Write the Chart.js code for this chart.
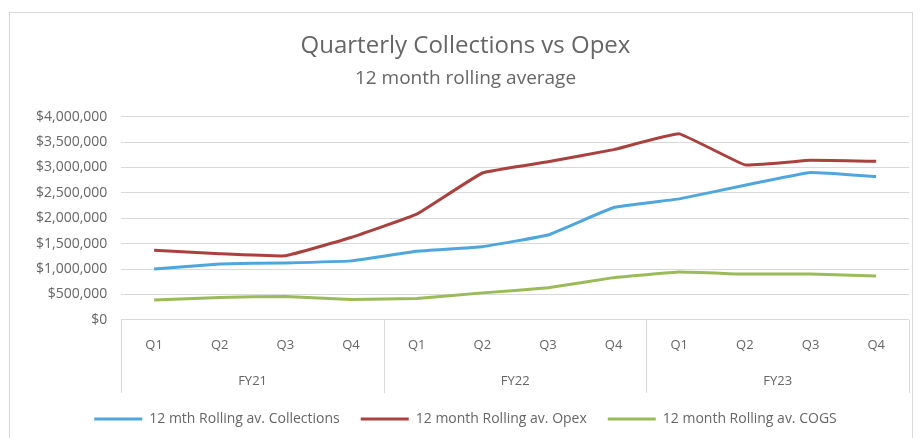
<!DOCTYPE html>
<html>
<head>
<meta charset="utf-8">
<script src="https://cdn.jsdelivr.net/npm/chart.js@4"></script>
<style>
  body { margin: 0; background: #ffffff; }
  #box { position: absolute; left: 9px; top: 12px; width: 902px; height: 430px; border: 1px solid #d9d9d9; background: #fff; }
  #c { display: block; }
</style>
</head>
<body>
<div id="box"><canvas id="c" width="902" height="430"></canvas></div>
<script>
// Datos del gráfico
const quarters = ['Q1', 'Q2', 'Q3', 'Q4', 'Q1', 'Q2', 'Q3', 'Q4', 'Q1', 'Q2', 'Q3', 'Q4'];
const years = ['FY21', 'FY22', 'FY23'];
const collections = [1000000, 1100000, 1120000, 1160000, 1350000, 1440000, 1670000, 2210000, 2380000, 2650000, 2900000, 2820000];
const opex = [1370000, 1300000, 1260000, 1620000, 2080000, 2890000, 3110000, 3350000, 3660000, 3050000, 3140000, 3120000];
const cogs = [390000, 440000, 460000, 400000, 420000, 530000, 630000, 830000, 940000, 900000, 900000, 860000];
const yTicks = [0, 500000, 1000000, 1500000, 2000000, 2500000, 3000000, 3500000, 4000000];

const gris = '#666666';
const lineaGris = '#d9d9d9';
const fuente = 'Open Sans';

// Líneas verticales que separan los años debajo del eje
const separadores = {
    id: 'separadores',
    afterDraw(chart) {
        const x = chart.scales.x;
        const x2 = chart.scales.x2;
        const ctx = chart.ctx;
        const paso = x.getPixelForValue(1) - x.getPixelForValue(0);
        ctx.save();
        ctx.strokeStyle = lineaGris;
        ctx.lineWidth = 1;
        for (let i = 0; i <= quarters.length; i += 4) {
            const px = Math.round(x.getPixelForValue(i) - paso / 2) + 0.5;
            ctx.beginPath();
            ctx.moveTo(px, chart.chartArea.bottom);
            ctx.lineTo(px, x2.bottom + 2);
            ctx.stroke();
        }
        ctx.restore();
    }
};

const ctx = document.getElementById('c').getContext('2d');
new Chart(ctx, {
    type: 'line',
    data: {
        labels: quarters,
        datasets: [
            { label: '12 mth Rolling av. Collections', data: collections, borderColor: '#4ea6dc', backgroundColor: '#4ea6dc', borderWidth: 3 },
            { label: '12 month Rolling av. Opex', data: opex, borderColor: '#a9413f', backgroundColor: '#a9413f', borderWidth: 3 },
            { label: '12 month Rolling av. COGS', data: cogs, borderColor: '#9bbb59', backgroundColor: '#9bbb59', borderWidth: 3 }
        ]
    },
    options: {
        responsive: false,
        animation: false,
        layout: { padding: { left: 12, right: 3, top: 4, bottom: 7 } },
        elements: {
            line: { tension: 0.08 },
            point: { radius: 0 }
        },
        plugins: {
            title: {
                display: true,
                text: 'Quarterly Collections vs Opex',
                color: gris,
                font: { family: fuente, size: 24, weight: 'normal' },
                padding: { top: 15, bottom: 6 }
            },
            subtitle: {
                display: true,
                text: '12 month rolling average',
                color: gris,
                font: { family: fuente, size: 19, weight: 'normal' },
                padding: { bottom: 27 }
            },
            legend: {
                position: 'bottom',
                labels: {
                    usePointStyle: true,
                    pointStyle: 'line',
                    pointStyleWidth: 48,
                    color: gris,
                    font: { family: fuente, size: 14 },
                    padding: 21
                }
            },
            tooltip: { enabled: false }
        },
        scales: {
            y: {
                min: 0,
                max: 4000000,
                afterBuildTicks(axis) { axis.ticks = yTicks.map(v => ({ value: v })); },
                grid: { color: lineaGris, drawTicks: false },
                border: { display: false },
                ticks: {
                    color: gris,
                    padding: 14,
                    font: { family: fuente, size: 14 },
                    callback: v => '$' + Number(v).toLocaleString('en-US')
                }
            },
            x: {
                offset: true,
                grid: { display: false },
                border: { display: false },
                ticks: { color: gris, padding: 10, font: { family: fuente, size: 13 } }
            },
            x2: {
                type: 'category',
                labels: years,
                position: 'bottom',
                offset: true,
                grid: { display: false },
                border: { display: false },
                ticks: { color: gris, padding: 2, font: { family: fuente, size: 13 } }
            }
        }
    },
    plugins: [separadores]
});
</script>
</body>
</html>
